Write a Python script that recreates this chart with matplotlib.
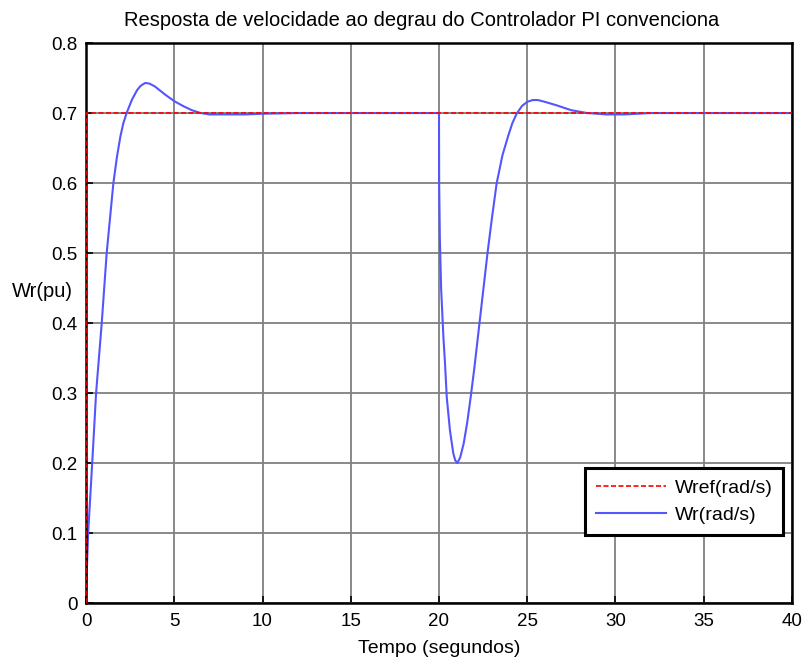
import matplotlib
matplotlib.use("Agg")
import matplotlib.pyplot as plt

# reference step (Wref)
t_ref = [0, 0, 40]
w_ref = [0, 0.7, 0.7]

# speed response (Wr)
t_wr = [0, 0.05, 0.12, 0.35, 0.57, 0.89, 1.17, 1.55, 1.75, 1.95, 2.12, 2.3, 2.6, 2.9, 3.1,
        3.35, 3.6, 3.9, 4.2, 4.5, 5.0, 5.5, 6.0, 6.5, 7.0, 8.0, 9.0, 10, 12, 20,
        20.01, 20.05, 20.12, 20.25, 20.34, 20.44, 20.62, 20.81, 20.92, 21.04, 21.2, 21.4,
        21.6, 21.8, 22.0, 22.25, 22.5, 22.75, 23.0, 23.27, 23.6, 23.93, 24.15, 24.4,
        24.7, 25.0, 25.3, 25.6, 26.0, 26.67, 27.5, 28.4, 29.5, 30.5, 32, 40]
w_wr = [0, 0.05, 0.1, 0.2, 0.3, 0.4, 0.5, 0.6, 0.637, 0.667, 0.686, 0.7, 0.719, 0.733, 0.739,
        0.743, 0.742, 0.738, 0.732, 0.726, 0.717, 0.71, 0.704, 0.7, 0.698, 0.698, 0.698, 0.699, 0.7, 0.7,
        0.6, 0.52, 0.45, 0.38, 0.343, 0.294, 0.247, 0.214, 0.204, 0.2, 0.208, 0.228,
        0.258, 0.295, 0.335, 0.39, 0.445, 0.5, 0.55, 0.6, 0.64, 0.668, 0.685, 0.699,
        0.71, 0.716, 0.7185, 0.7186, 0.716, 0.711, 0.704, 0.7, 0.698, 0.698, 0.7, 0.7]

xticks = [0, 5, 10, 15, 20, 25, 30, 35, 40]
yticks = [0, 0.1, 0.2, 0.3, 0.4, 0.5, 0.6, 0.7, 0.8]
ytick_labels = ["0", "0.1", "0.2", "0.3", "0.4", "0.5", "0.6", "0.7", "0.8"]

plt.rcParams['font.family'] = ['Liberation Sans', 'DejaVu Sans']

fig = plt.figure(figsize=(8.04, 6.62), dpi=100)
ax = fig.add_axes([0.107, 0.089, 0.878, 0.846])

ax.plot(t_ref, w_ref, color='red', ls='--', lw=1.2, dashes=(3, 1.5), label='Wref(rad/s)', zorder=3)
ax.plot(t_wr, w_wr, color='#5555ff', lw=1.5, label='Wr(rad/s)', zorder=2)

ax.set_xlim(0, 40)
ax.set_ylim(0, 0.8)
ax.set_xticks(xticks)
ax.set_yticks(yticks)
ax.set_yticklabels(ytick_labels)
ax.grid(True, color='#808080', lw=1.3, ls='-')
ax.tick_params(direction='in', labelsize=13.5, length=5, width=1.2)
ax.tick_params(axis='x', pad=7)
ax.tick_params(axis='y', pad=6)
for s in ax.spines.values():
    s.set_linewidth(1.8)
    s.set_color('black')

ax.set_title('Resposta de velocidade ao degrau do Controlador PI convenciona',
             fontsize=14.5, pad=12, x=0.476)
ax.set_xlabel('Tempo (segundos)', fontsize=14, labelpad=7)
ax.set_ylabel('Wr(pu)', fontsize=14.5, rotation=0)
ax.yaxis.set_label_coords(-0.062, 0.54)

leg = ax.legend(loc='lower right', bbox_to_anchor=(0.988, 0.122), fontsize=14,
                fancybox=False, framealpha=1, edgecolor='black', handlelength=3.6,
                handletextpad=0.45, borderpad=0.55, labelspacing=0.5, borderaxespad=0)
leg.get_frame().set_linewidth(2.2)

fig.savefig('out.png', dpi=100)
